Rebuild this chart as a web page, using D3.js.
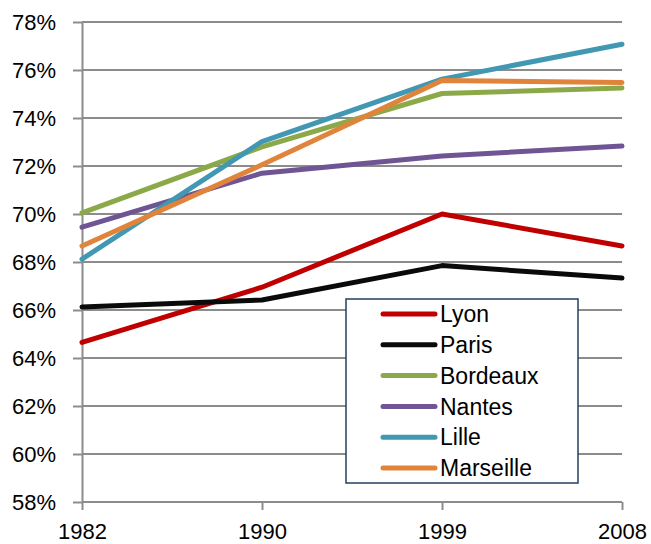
<!DOCTYPE html>
<html>
<head>
<meta charset="utf-8">
<script src="https://cdn.jsdelivr.net/npm/d3@7"></script>
<style>
  html, body { margin: 0; padding: 0; background: #fff; }
  svg { display: block; }
  text { font-family: "Liberation Sans", Arial, sans-serif; fill: #000; }
</style>
</head>
<body>
<svg id="chart" width="651" height="544"></svg>
<script>
const years = ["1982", "1990", "1999", "2008"];
const yTicks = [58, 60, 62, 64, 66, 68, 70, 72, 74, 76, 78];

const lyon      = [64.65, 66.95, 70.0, 68.67];
const paris     = [66.13, 66.42, 67.85, 67.33];
const bordeaux  = [70.05, 72.8, 75.02, 75.25];
const nantes    = [69.45, 71.7, 72.42, 72.83];
const lille     = [68.12, 73.02, 75.62, 77.07];
const marseille = [68.67, 72.05, 75.56, 75.48];

const seriesNames  = ["Lyon", "Paris", "Bordeaux", "Nantes", "Lille", "Marseille"];
const seriesValues = [lyon, paris, bordeaux, nantes, lille, marseille];
const seriesColors = ["#C00000", "#0A0A0A", "#8CA94A", "#6F5593", "#4298B2", "#E0843C"];

(function () {
const svg = d3.select("#chart");
const mLeft = 82, mRight = 622, mTop = 22, mBottom = 502;

const x = d3.scalePoint().domain(years).range([mLeft, mRight]);
const y = d3.scaleLinear().domain([58, 78]).range([mBottom, mTop]);

const gridColor = "#8C8C8C";

// horizontal gridlines
svg.append("g").selectAll("line").data(yTicks.filter(d => d !== 58)).join("line")
  .attr("x1", mLeft).attr("x2", mRight)
  .attr("y1", d => y(d)).attr("y2", d => y(d))
  .attr("stroke", gridColor).attr("stroke-width", 2);

// y axis
const yAxis = svg.append("g").attr("transform", `translate(${mLeft},0)`)
  .call(d3.axisLeft(y).tickValues(yTicks).tickSize(9).tickSizeOuter(0).tickFormat(d => d + "%"));
yAxis.select(".domain").attr("stroke", gridColor).attr("stroke-width", 2);
yAxis.selectAll(".tick line").attr("stroke", gridColor).attr("stroke-width", 2);
yAxis.selectAll(".tick text")
  .attr("x", -26).attr("dy", "0.36em")
  .style("font-size", "22px").style("font-family", "'Liberation Sans', Arial, sans-serif").attr("fill", "#000");

// x axis
const xAxis = svg.append("g").attr("transform", `translate(0,${mBottom})`)
  .call(d3.axisBottom(x).tickSize(8).tickSizeOuter(0));
xAxis.select(".domain").attr("d", `M${mLeft},0H${mRight}`).attr("stroke", gridColor).attr("stroke-width", 2);
xAxis.selectAll(".tick line").attr("stroke", gridColor).attr("stroke-width", 2);
xAxis.selectAll(".tick text")
  .attr("y", 37).attr("dy", 0)
  .style("font-size", "22px").style("font-family", "'Liberation Sans', Arial, sans-serif").attr("fill", "#000");

// lines
const line = d3.line().x((d, i) => x(years[i])).y(d => y(d));
svg.append("g").selectAll("path").data(seriesValues).join("path")
  .attr("d", d => line(d))
  .attr("fill", "none")
  .attr("stroke", (d, i) => seriesColors[i])
  .attr("stroke-width", 5)
  .attr("stroke-linejoin", "round")
  .attr("stroke-linecap", "round");

// legend
const lg = svg.append("g");
lg.append("rect")
  .attr("x", 346).attr("y", 299).attr("width", 232).attr("height", 184)
  .attr("fill", "#fff").attr("stroke", "#243F60").attr("stroke-width", 1.5);
const rowY = d3.scalePoint().domain(seriesNames).range([314, 468]);
const rows = lg.selectAll("g.row").data(seriesNames).join("g").attr("class", "row")
  .attr("transform", d => `translate(0,${rowY(d)})`);
rows.append("line")
  .attr("x1", 383).attr("x2", 435).attr("y1", 0).attr("y2", 0)
  .attr("stroke", (d, i) => seriesColors[i]).attr("stroke-width", 5).attr("stroke-linecap", "round");
rows.append("text")
  .attr("x", 440).attr("dy", "0.36em")
  .style("font-size", "23px")
  .text(d => d);
})();
</script>
</body>
</html>
